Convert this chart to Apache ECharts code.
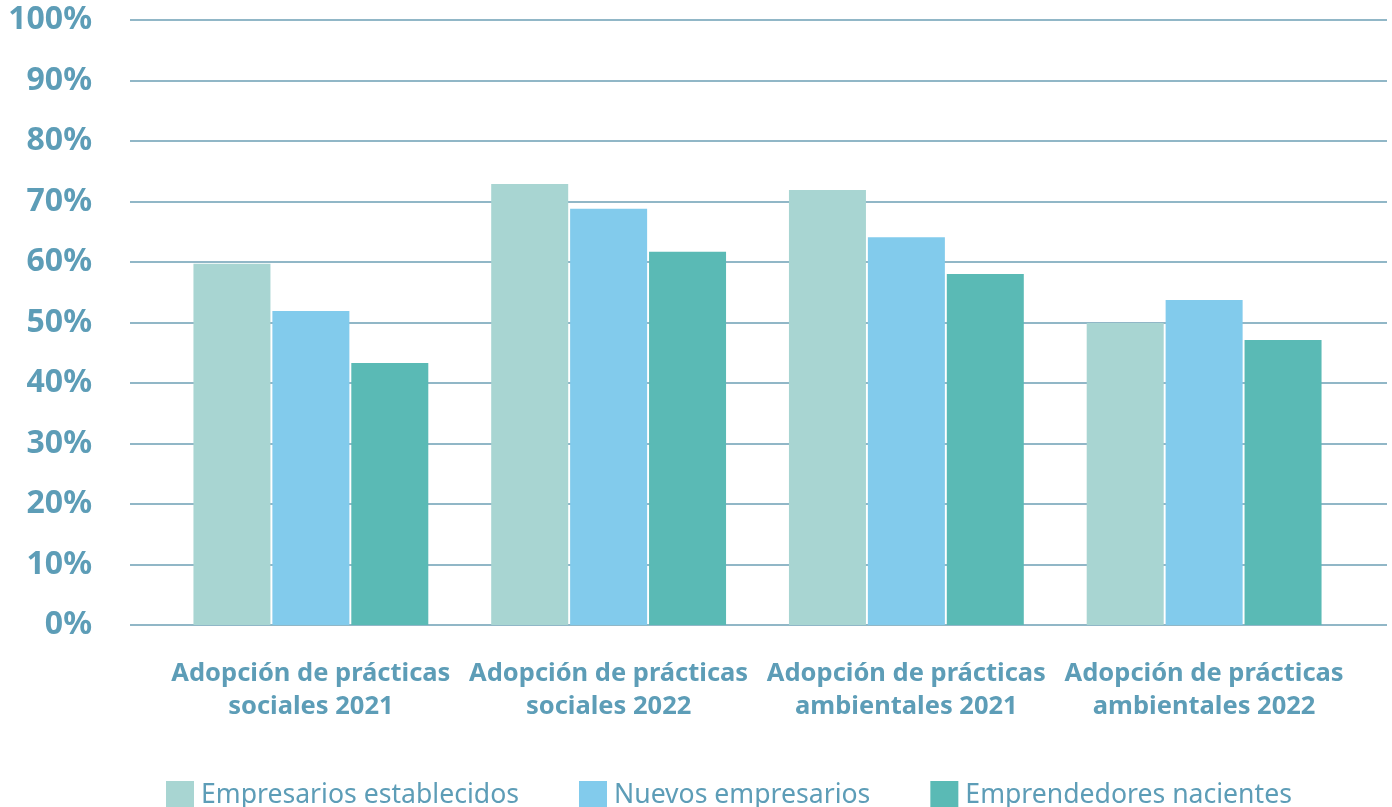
<!DOCTYPE html>
<html>
<head>
<meta charset="utf-8">
<style>
  html, body { margin: 0; padding: 0; background: #ffffff; }
  #chart { width: 1392px; height: 807px; }
</style>
<script src="https://cdn.jsdelivr.net/npm/echarts@6/dist/echarts.min.js"></script>
</head>
<body>
<div id="chart"></div>
<script>
// Categories and series values (percent)
const categories = [
  'Adopción de prácticas\nsociales 2021',
  'Adopción de prácticas\nsociales 2022',
  'Adopción de prácticas\nambientales 2021',
  'Adopción de prácticas\nambientales 2022'
];
const seriesNames = ['Empresarios establecidos', 'Nuevos empresarios', 'Emprendedores nacientes'];
const establecidos = [59.7, 72.9, 71.9, 49.9];
const nuevos = [51.9, 68.8, 64.1, 53.7];
const nacientes = [43.3, 61.7, 58.0, 47.1];
const colors = ['#a8d5d2', '#82cbec', '#5abab5'];

const textColor = '#5d9db7';
const fontFamily = '"Noto Sans", "Open Sans", sans-serif';

const chart = echarts.init(document.getElementById('chart'));
const plotTop = 20, plotBottom = 182;

chart.setOption({
  animation: false,
  backgroundColor: '#ffffff',
  textStyle: { fontFamily },
  grid: [
    // full-width grid carrying the value axis and gridlines
    { left: 130, right: 5, top: plotTop, bottom: plotBottom, containLabel: false },
    // inner grid where the category bars sit
    { left: 162, width: 1191, top: plotTop, bottom: plotBottom, containLabel: false }
  ],
  xAxis: [
    { gridIndex: 0, type: 'category', data: ['a'], show: false },
    {
      gridIndex: 1, type: 'category', data: categories,
      axisLine: { show: false }, axisTick: { show: false },
      axisLabel: {
        color: textColor, fontSize: 25.5, fontWeight: 'bold', fontFamily,
        lineHeight: 33, margin: 32, interval: 0
      }
    }
  ],
  yAxis: [
    {
      gridIndex: 0, type: 'value', min: 0, max: 100, interval: 10,
      axisLine: { show: false }, axisTick: { show: false },
      axisLabel: {
        formatter: '{value}%', color: textColor, fontSize: 32,
        fontWeight: 'bold', fontFamily, margin: 38
      },
      splitLine: { lineStyle: { color: '#6c9fb4', width: 1.5 } }
    },
    {
      gridIndex: 1, type: 'value', min: 0, max: 100, interval: 10, show: false,
      splitLine: { show: false }
    }
  ],
  legend: {
    top: 776, left: 161,
    itemWidth: 28, itemHeight: 28, itemGap: 60,
    icon: 'rect',
    textStyle: { color: textColor, fontSize: 26.6, fontFamily, padding: [0, 0, 0, 2] },
    data: seriesNames
  },
  series: [
    { name: seriesNames[0], data: establecidos, color: colors[0] },
    { name: seriesNames[1], data: nuevos, color: colors[1] },
    { name: seriesNames[2], data: nacientes, color: colors[2] }
  ].map(s => ({
    type: 'bar', xAxisIndex: 1, yAxisIndex: 1,
    name: s.name, data: s.data,
    itemStyle: { color: s.color },
    barWidth: 77, barGap: '2.5%', z: 3
  }))
});
</script>
</body>
</html>
